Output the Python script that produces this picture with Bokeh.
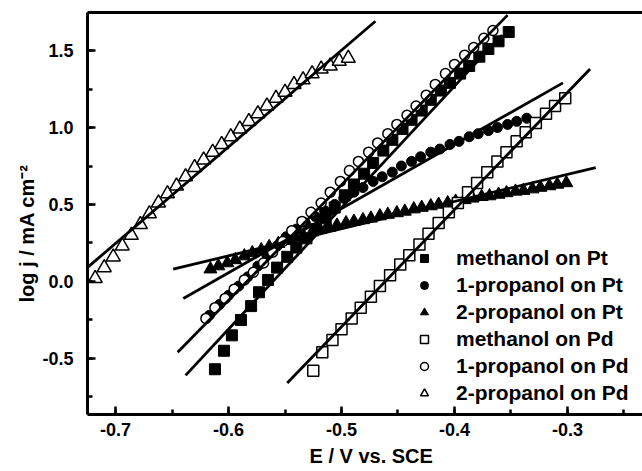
from bokeh.plotting import figure
from bokeh.models import (Range1d, SingleIntervalTicker, PrintfTickFormatter, LinearAxis,
                          FixedTicker, Legend, LegendItem, Title)
from bokeh.embed import file_html
from bokeh.resources import INLINE

FONT = "Liberation Sans"

# ---------------- data ----------------
# methanol on Pt (filled squares)
mePt_x = [-0.612, -0.604, -0.597, -0.589, -0.580, -0.573, -0.565, -0.557, -0.548, -0.540, -0.531,
          -0.523, -0.514, -0.506, -0.497, -0.489, -0.480, -0.472, -0.463, -0.455, -0.446, -0.438,
          -0.429, -0.421, -0.412, -0.404, -0.395, -0.387, -0.378, -0.370, -0.361, -0.352]
mePt_y = [-0.57, -0.45, -0.35, -0.25, -0.16, -0.07, 0.01, 0.09, 0.16, 0.22, 0.28,
          0.34, 0.41, 0.48, 0.56, 0.63, 0.70, 0.77, 0.85, 0.92, 0.99, 1.05,
          1.11, 1.18, 1.24, 1.29, 1.35, 1.40, 1.46, 1.51, 1.56, 1.62]

# 1-propanol on Pt (filled circles)
prPt_x = [-0.617, -0.608, -0.600, -0.591, -0.583, -0.574, -0.566, -0.557, -0.549, -0.540, -0.532,
          -0.523, -0.515, -0.506, -0.498, -0.489, -0.481, -0.472, -0.464, -0.455, -0.447, -0.438,
          -0.430, -0.421, -0.413, -0.404, -0.396, -0.387, -0.379, -0.370, -0.362, -0.353, -0.345,
          -0.336]
prPt_y = [-0.22, -0.15, -0.09, -0.03, 0.03, 0.10, 0.17, 0.23, 0.29, 0.34, 0.38,
          0.42, 0.46, 0.50, 0.54, 0.58, 0.61, 0.65, 0.68, 0.71, 0.75, 0.78,
          0.81, 0.84, 0.86, 0.89, 0.91, 0.94, 0.96, 0.98, 1.00, 1.02, 1.04,
          1.06]

# 2-propanol on Pt (filled triangles)
ipPt_x = [-0.616, -0.609, -0.601, -0.594, -0.586, -0.579, -0.571, -0.564, -0.556, -0.549, -0.541,
          -0.534, -0.526, -0.519, -0.511, -0.504, -0.496, -0.489, -0.481, -0.474, -0.466, -0.459,
          -0.451, -0.444, -0.436, -0.429, -0.421, -0.414, -0.406, -0.399, -0.391, -0.384, -0.376,
          -0.369, -0.361, -0.354, -0.346, -0.339, -0.331, -0.324, -0.316, -0.309, -0.301]
ipPt_y = [0.08, 0.10, 0.12, 0.14, 0.165, 0.185, 0.205, 0.225, 0.245, 0.265, 0.285,
          0.30, 0.32, 0.335, 0.35, 0.365, 0.38, 0.39, 0.40, 0.41, 0.425, 0.435,
          0.445, 0.455, 0.47, 0.48, 0.49, 0.50, 0.51, 0.52, 0.53, 0.54, 0.55,
          0.555, 0.565, 0.575, 0.585, 0.59, 0.60, 0.61, 0.62, 0.63, 0.64]

# methanol on Pd (open squares)
mePd_x = [-0.525, -0.517, -0.508, -0.500, -0.491, -0.483, -0.474, -0.466, -0.457, -0.448, -0.440,
          -0.431, -0.423, -0.414, -0.405, -0.397, -0.388, -0.380, -0.371, -0.362, -0.354, -0.345,
          -0.337, -0.328, -0.319, -0.311, -0.302]
mePd_y = [-0.58, -0.46, -0.38, -0.31, -0.24, -0.17, -0.10, -0.03, 0.04, 0.11, 0.17,
          0.24, 0.31, 0.38, 0.45, 0.51, 0.58, 0.64, 0.71, 0.78, 0.84, 0.91,
          0.97, 1.03, 1.09, 1.14, 1.19]

# 1-propanol on Pd (open circles)
prPd_x = [-0.620, -0.612, -0.603, -0.595, -0.586, -0.578, -0.569, -0.561, -0.552, -0.544, -0.535,
          -0.527, -0.518, -0.510, -0.501, -0.493, -0.485, -0.476, -0.468, -0.459, -0.451, -0.442,
          -0.434, -0.425, -0.417, -0.408, -0.400, -0.391, -0.383, -0.374, -0.366]
prPd_y = [-0.24, -0.17, -0.11, -0.05, 0.01, 0.06, 0.12, 0.19, 0.26, 0.33, 0.39,
          0.45, 0.51, 0.58, 0.65, 0.72, 0.78, 0.84, 0.90, 0.96, 1.02, 1.08,
          1.14, 1.21, 1.28, 1.35, 1.41, 1.47, 1.52, 1.58, 1.63]

# 2-propanol on Pd (open triangles)
ipPd_x = [-0.718, -0.710, -0.702, -0.694, -0.686, -0.678, -0.670, -0.662, -0.654, -0.646, -0.638,
          -0.630, -0.622, -0.614, -0.606, -0.598, -0.590, -0.582, -0.574, -0.566, -0.558, -0.550,
          -0.542, -0.534, -0.526, -0.518, -0.510, -0.502, -0.494]
ipPd_y = [0.02, 0.09, 0.16, 0.23, 0.30, 0.37, 0.44, 0.51, 0.57, 0.62, 0.68,
          0.74, 0.79, 0.84, 0.89, 0.94, 0.99, 1.04, 1.09, 1.14, 1.19, 1.23,
          1.28, 1.31, 1.35, 1.38, 1.40, 1.43, 1.45]

# linear Tafel fits (start / end points)
fit_x0 = [-0.725, -0.548, -0.645, -0.638, -0.640, -0.649]
fit_y0 = [0.09, -0.66, -0.46, -0.61, -0.11, 0.08]
fit_x1 = [-0.470, -0.280, -0.353, -0.358, -0.304, -0.275]
fit_y1 = [1.69, 1.38, 1.73, 1.60, 1.29, 0.74]

series_labels = ["methanol on Pt", "1-propanol on Pt", "2-propanol on Pt",
                 "methanol on Pd", "1-propanol on Pd", "2-propanol on Pd"]

# ---------------- figure ----------------
p = figure(width=642, height=471, output_backend="svg", toolbar_location=None,
           x_range=Range1d(-0.7248, -0.2336), y_range=Range1d(-0.864, 1.747),
           min_border_left=87, min_border_right=0, min_border_top=12, min_border_bottom=57)
p.outline_line_color = None
p.xgrid.visible = False
p.ygrid.visible = False
p.background_fill_color = "white"
p.border_fill_color = "white"

for ax, interval in ((p.xaxis[0], 0.1), (p.yaxis[0], 0.5)):
    ax.ticker = SingleIntervalTicker(interval=interval, num_minor_ticks=2)
    ax.formatter = PrintfTickFormatter(format="%.1f")
    ax.axis_line_width = 3
    ax.axis_line_color = "black"
    ax.major_tick_line_width = 2.5
    ax.minor_tick_line_width = 2.5
    ax.major_tick_line_color = "black"
    ax.minor_tick_line_color = "black"
    ax.major_tick_in = 8
    ax.major_tick_out = 0
    ax.minor_tick_in = 5
    ax.minor_tick_out = 0
    ax.major_label_text_font = FONT
    ax.major_label_text_font_style = "bold"
    ax.major_label_text_font_size = "18px"
    ax.major_label_text_color = "black"
p.xaxis.major_label_standoff = 8
p.yaxis.major_label_standoff = 14

top = LinearAxis(ticker=FixedTicker(ticks=[]), axis_line_width=3, axis_line_color="black",
                 major_tick_line_color=None, minor_tick_line_color=None,
                 major_tick_in=0, major_tick_out=0, minor_tick_in=0, minor_tick_out=0,
                 major_label_standoff=0, major_label_text_font_size="0px")
p.add_layout(top, "above")

# axis titles
p.add_layout(Title(text="E / V vs. SCE", align="left", offset=222, standoff=8,
                   text_font=FONT, text_font_style="bold", text_font_size="20px",
                   text_color="black"), "below")
p.add_layout(Title(text="log j / mA cm\u207b\u00b2", align="left", offset=112, standoff=3,
                   text_font=FONT, text_font_style="bold", text_font_size="20px",
                   text_color="black"), "left")

# markers
r1 = p.scatter(mePt_x, mePt_y, marker="square", size=11, fill_color="black", line_color="black")
r2 = p.scatter(prPt_x, prPt_y, marker="circle", size=10, fill_color="black", line_color="black")
r3 = p.scatter(ipPt_x, ipPt_y, marker="triangle", size=13, fill_color="black", line_color="black")
r4 = p.scatter(mePd_x, mePd_y, marker="square", size=11, fill_color="white", line_color="black",
               line_width=1.5)
r5 = p.scatter(prPd_x, prPd_y, marker="circle", size=10, fill_color="white", line_color="black",
               line_width=1.5)
r6 = p.scatter(ipPd_x, ipPd_y, marker="triangle", size=14, fill_color="white", line_color="black",
               line_width=1.5)

# fit lines
p.segment(fit_x0, fit_y0, fit_x1, fit_y1, line_color="black", line_width=2.8)

legend = Legend(items=[LegendItem(label=lab, renderers=[r])
                       for lab, r in zip(series_labels, [r1, r2, r3, r4, r5, r6])],
                location=(327, 9), orientation="vertical",
                label_text_font=FONT, label_text_font_style="bold", label_text_font_size="21px",
                label_text_color="black",
                glyph_width=20, glyph_height=20, label_height=20, label_standoff=22, spacing=3,
                padding=0, margin=0, border_line_color=None, background_fill_alpha=0)
p.add_layout(legend)

open("out.html", "w").write(file_html(p, INLINE))
